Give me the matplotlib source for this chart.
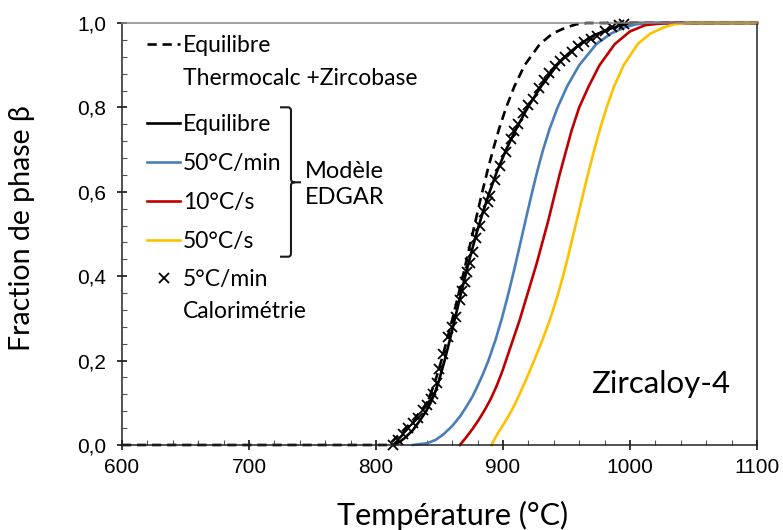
import matplotlib
matplotlib.use("Agg")
import matplotlib.pyplot as plt
from matplotlib.lines import Line2D
from matplotlib.path import Path
from matplotlib.patches import PathPatch
from matplotlib.ticker import MultipleLocator, FuncFormatter

# Equilibre Thermocalc + Zircobase (dashed)
tc_temp = [600, 810, 815, 820, 825, 831, 836.5, 840, 843.5, 846.5, 851.5, 856,
           860.3, 864.4, 868.4, 872.2, 876, 879.8, 883.7, 887.8, 892.2, 897,
           902.5, 909, 917, 929, 939, 950, 958, 966, 1100]
tc_frac = [0.0, 0.0, 0.015, 0.03, 0.045, 0.065, 0.085, 0.10, 0.125, 0.15,
           0.20, 0.25, 0.30, 0.35, 0.40, 0.45, 0.50, 0.55, 0.60, 0.65, 0.70,
           0.75, 0.80, 0.85, 0.90, 0.95, 0.975, 0.99, 0.997, 1.0, 1.0]

# Modele EDGAR - equilibre
eq_temp = [815, 822, 829, 835, 839.5, 843, 846.5, 849.3, 854, 858.2, 862.2,
           866.2, 870.3, 874.5, 879, 884, 889.5, 895.5, 902.5, 910.5, 919.5,
           930, 942.5, 950.5, 960.5, 971, 983, 993, 1000, 1100]
eq_frac = [0.0, 0.015, 0.035, 0.06, 0.08, 0.10, 0.125, 0.15, 0.20, 0.25, 0.30,
           0.35, 0.40, 0.45, 0.50, 0.55, 0.60, 0.65, 0.70, 0.75, 0.80, 0.85,
           0.90, 0.925, 0.95, 0.97, 0.985, 0.995, 1.0, 1.0]

# Modele EDGAR - 50 C/min
b_temp = [829, 840, 847, 853, 860, 866, 871, 876, 880, 884.5, 888.5, 894.2,
          899.1, 903.5, 907.6, 911.5, 915.3, 919.1, 923.0, 927.1, 931.6,
          936.8, 943, 950.5, 960, 973.5, 985, 996, 1005, 1015, 1100]
b_frac = [0.0, 0.004, 0.012, 0.025, 0.045, 0.067, 0.09, 0.115, 0.14, 0.17,
          0.20, 0.25, 0.30, 0.35, 0.40, 0.45, 0.50, 0.55, 0.60, 0.65, 0.70,
          0.75, 0.80, 0.85, 0.90, 0.95, 0.975, 0.99, 0.997, 1.0, 1.0]

# Modele EDGAR - 10 C/s
r_temp = [866, 871, 876, 881, 886, 890.5, 895, 899.5, 904, 908.5, 913, 917.5,
          922, 926.5, 931, 935.5, 940, 944.5, 949, 954, 960, 967.5, 976, 988,
          1000, 1012, 1028, 1100]
r_frac = [0.0, 0.018, 0.038, 0.06, 0.085, 0.11, 0.14, 0.175, 0.215, 0.255,
          0.295, 0.34, 0.385, 0.43, 0.48, 0.53, 0.585, 0.64, 0.69, 0.745, 0.80,
          0.85, 0.90, 0.95, 0.98, 0.995, 1.0, 1.0]

# Modele EDGAR - 50 C/s
y_temp = [891, 893, 896, 900, 904, 907.7, 911, 917.5, 924.5, 931.2, 937.3,
          942.6, 947.3, 951.5, 955.5, 959.5, 963.5, 967.6, 971.9, 976.5,
          981.6, 987.5, 995, 1006, 1016, 1027, 1035, 1045, 1100]
y_frac = [0.0, 0.012, 0.028, 0.047, 0.067, 0.087, 0.107, 0.15, 0.20, 0.25,
          0.30, 0.35, 0.40, 0.45, 0.50, 0.55, 0.60, 0.65, 0.70, 0.75, 0.80,
          0.85, 0.90, 0.95, 0.975, 0.99, 0.997, 1.0, 1.0]

# Calorimetrie 5 C/min
cal_temp = [813, 817, 821, 825, 829, 833, 837, 840, 843, 845, 848, 850, 853,
            857, 860, 863, 866, 868, 870, 872, 874, 876, 879, 882, 885, 888,
            890, 894, 898, 902, 906, 909, 912, 916, 920, 924, 928, 932, 936,
            941, 945, 949, 954, 959, 964, 969, 974, 980, 986, 991, 995]
cal_frac = [0.0, 0.012, 0.027, 0.040, 0.052, 0.065, 0.082, 0.095, 0.110,
            0.122, 0.146, 0.180, 0.215, 0.257, 0.280, 0.304, 0.344, 0.365,
            0.387, 0.410, 0.431, 0.458, 0.490, 0.520, 0.552, 0.575, 0.590,
            0.628, 0.661, 0.694, 0.725, 0.745, 0.760, 0.786, 0.806, 0.820,
            0.846, 0.866, 0.882, 0.898, 0.910, 0.920, 0.932, 0.945, 0.954,
            0.962, 0.970, 0.982, 0.990, 0.995, 0.998]

BLUE = "#4A7EBB"
RED = "#C00000"
YELLOW = "#FFC000"
TXT = "Lato"

fig, ax = plt.subplots(figsize=(7.83, 5.30), dpi=100)
fig.subplots_adjust(left=0.1558, right=0.9668, bottom=0.1604, top=0.9566)

lw = 1.9
l_tc, = ax.plot(tc_temp, tc_frac, color="black", lw=lw, ls=(0, (3.5, 2.2)),
                clip_on=False)
l_eq, = ax.plot(eq_temp, eq_frac, color="black", lw=lw, clip_on=False)
l_b, = ax.plot(b_temp, b_frac, color=BLUE, lw=lw, clip_on=False)
l_r, = ax.plot(r_temp, r_frac, color=RED, lw=lw, clip_on=False)
l_y, = ax.plot(y_temp, y_frac, color=YELLOW, lw=lw, clip_on=False)
l_cal, = ax.plot(cal_temp, cal_frac, ls="none", marker="x", color="black",
                 ms=7, mew=1.3, clip_on=False)

ax.set_xlim(600, 1100)
ax.set_ylim(0, 1)
ax.xaxis.set_major_locator(MultipleLocator(100))
ax.xaxis.set_minor_locator(MultipleLocator(20))
ax.yaxis.set_major_locator(MultipleLocator(0.2))
ax.yaxis.set_minor_locator(MultipleLocator(0.04))
ax.yaxis.set_major_formatter(FuncFormatter(lambda v, p: f"{v:.1f}".replace(".", ",")))

ax.tick_params(which="major", direction="inout", length=7, width=1.1,
               labelsize=15, pad=6)
ax.tick_params(which="minor", direction="in", length=3.5, width=0.8,
               color="#555555")
ax.tick_params(axis="y", which="major", pad=8)
for lab in ax.get_xticklabels() + ax.get_yticklabels():
    lab.set_fontfamily("Liberation Sans")

for s in ["left", "bottom", "right"]:
    ax.spines[s].set_color("#222222")
    ax.spines[s].set_linewidth(1.1)
ax.spines["top"].set_color("#888888")
ax.spines["top"].set_linewidth(1.1)

ax.set_xlabel("Température (°C)", fontsize=22, family=TXT, va="center")
ax.xaxis.set_label_coords(0.52, -0.168)
ax.set_ylabel("Fraction de phase β", fontsize=20.5, family=TXT, va="center")
ax.yaxis.set_label_coords(-0.1575, 0.514)

blank = Line2D([], [], ls="none")
leg_kw = dict(loc="upper left", frameon=False, borderpad=0, borderaxespad=0,
              handlelength=1.45, handletextpad=0.13,
              prop={"family": TXT, "size": 16.5})

leg1 = ax.legend([l_tc, blank], ["Equilibre", "Thermocalc +Zircobase"],
                 bbox_to_anchor=(0.0394, 0.971), labelspacing=0.53, **leg_kw)
ax.add_artist(leg1)
leg2 = ax.legend([l_eq, l_b, l_r, l_y],
                 ["Equilibre", "50°C/min", "10°C/s", "50°C/s"],
                 bbox_to_anchor=(0.0394, 0.784), labelspacing=0.79, **leg_kw)
ax.add_artist(leg2)
ax.legend([l_cal, blank], ["5°C/min", "Calorimétrie"], numpoints=1,
          bbox_to_anchor=(0.0394, 0.416), labelspacing=0.45, **leg_kw)

# brace grouping the EDGAR model curves
verts = [(0.2488, 0.8002), (0.2614, 0.8002), (0.2661, 0.8002), (0.2661, 0.7927),
         (0.2661, 0.6303), (0.2661, 0.6225), (0.2724, 0.6225), (0.2819, 0.6225),
         (0.2724, 0.6225), (0.2661, 0.6225), (0.2661, 0.6149),
         (0.2661, 0.4538), (0.2661, 0.4462), (0.2614, 0.4462), (0.2488, 0.4462)]
codes = [Path.MOVETO, Path.LINETO, Path.CURVE3, Path.CURVE3,
         Path.LINETO, Path.CURVE3, Path.CURVE3, Path.LINETO,
         Path.MOVETO, Path.CURVE3, Path.CURVE3,
         Path.LINETO, Path.CURVE3, Path.CURVE3, Path.LINETO]
ax.add_patch(PathPatch(Path(verts, codes), transform=ax.transAxes,
                       fill=False, lw=1.5, color="#1a1a1a", clip_on=False))

ax.text(0.2882, 0.6165, "Modèle\nEDGAR", transform=ax.transAxes, ha="left",
        va="center", fontsize=17, family=TXT, linespacing=1.3)
ax.text(0.8488, 0.1445, "Zircaloy-4", transform=ax.transAxes, ha="center",
        va="center", fontsize=22.5, family=TXT)

plt.savefig("out.png", dpi=100)
plt.close(fig)
